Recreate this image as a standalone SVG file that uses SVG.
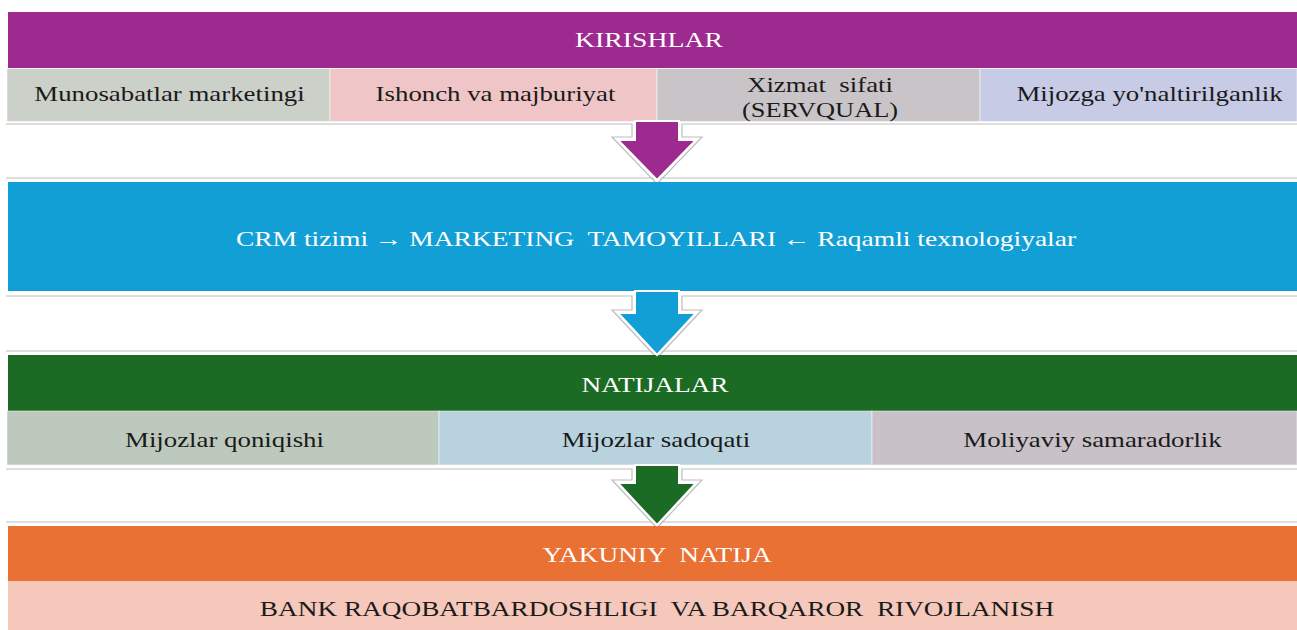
<svg xmlns="http://www.w3.org/2000/svg" width="1297" height="630" viewBox="0 0 1297 630">
<style>
  text { font-family: "Liberation Serif", "Times New Roman", serif; font-size: 22px; text-anchor: middle; white-space: pre; }
  .w { fill: #ffffff; }
  .d { fill: #1a1a1a; }
  .cell { stroke: #ffffff; stroke-opacity: 0.5; stroke-width: 1; }
  .rule { fill: #ffffff; stroke: #bdbdbd; stroke-width: 1.2; }
  .line { fill: none; stroke: #bdbdbd; stroke-width: 1.2; }
  .arrow { stroke: #ffffff; stroke-width: 2; stroke-linejoin: miter; }
</style>
<rect x="0" y="0" width="1297" height="630" fill="#ffffff"/>

<g id="connectors">
  <path class="rule" d="M6 124 H632 V137 H612 L657 184 L702 137 H682 V124 H1297"/>
  <path class="line" d="M6 178 H1297"/>
  <path class="rule" d="M6 296 H632 V310 H612 L657 358 L702 310 H682 V296 H1297"/>
  <path class="line" d="M6 351 H1297"/>
  <path class="rule" d="M6 469 H632 V480 H612 L657 528 L702 480 H682 V469 H1297"/>
  <path class="line" d="M6 522 H1297"/>
</g>

<g id="kirishlar">
  <rect x="8" y="12" width="1289" height="56" fill="#9d2a8f"/>
  <text class="w" transform="translate(649,47) scale(1.26,1)">KIRISHLAR</text>
</g>
<g id="munosabatlar">
  <rect class="cell" x="7" y="68.5" width="323" height="53" fill="#cbd0c8"/>
  <text class="d" transform="translate(169.5,101) scale(1.22,1)">Munosabatlar marketingi</text>
</g>
<g id="ishonch">
  <rect class="cell" x="330" y="68.5" width="327" height="53" fill="#f0c5c7"/>
  <text class="d" transform="translate(495.5,101) scale(1.22,1)">Ishonch va majburiyat</text>
</g>
<g id="xizmat">
  <rect class="cell" x="657" y="68.5" width="323" height="53" fill="#c9c4c7"/>
  <text class="d" transform="translate(820,92) scale(1.22,1)">Xizmat  sifati</text>
  <text class="d" transform="translate(820,117) scale(1.2,1)">(SERVQUAL)</text>
</g>
<g id="mijozga">
  <rect class="cell" x="980" y="68.5" width="317" height="53" fill="#c7cbe5"/>
  <text class="d" transform="translate(1149.5,101) scale(1.22,1)">Mijozga yo'naltirilganlik</text>
</g>

<g id="tamoyillar">
  <rect x="8" y="182" width="1289" height="109" fill="#129fd6"/>
  <text class="w" transform="translate(656,246) scale(1.25,1)">CRM tizimi → MARKETING  TAMOYILLARI ← Raqamli texnologiyalar</text>
</g>

<g id="natijalar">
  <rect x="8" y="355" width="1289" height="56" fill="#1b6b24"/>
  <text class="w" transform="translate(655,392) scale(1.24,1)">NATIJALAR</text>
</g>
<g id="qoniqish">
  <rect class="cell" x="7" y="411" width="432" height="54" fill="#bec9be"/>
  <text class="d" transform="translate(224.5,447) scale(1.22,1)">Mijozlar qoniqishi</text>
</g>
<g id="sadoqat">
  <rect class="cell" x="439" y="411" width="433" height="54" fill="#b9d3de"/>
  <text class="d" transform="translate(656,447) scale(1.22,1)">Mijozlar sadoqati</text>
</g>
<g id="moliyaviy">
  <rect class="cell" x="872" y="411" width="425" height="54" fill="#c9c1c8"/>
  <text class="d" transform="translate(1092.5,447) scale(1.22,1)">Moliyaviy samaradorlik</text>
</g>

<g id="yakuniy">
  <rect x="8" y="526" width="1289" height="55" fill="#e87133"/>
  <text class="w" transform="translate(657,562) scale(1.24,1)">YAKUNIY  NATIJA</text>
</g>
<g id="bank">
  <rect x="8" y="581" width="1289" height="49" fill="#f5c8bb"/>
  <text class="d" transform="translate(657,616) scale(1.24,1)">BANK RAQOBATBARDOSHLIGI  VA BARQAROR  RIVOJLANISH</text>
</g>

<g id="arrows">
  <path class="arrow" fill="#9d2a8f" d="M635 121 H679 V140 H696 L657 180 L618 140 H635 Z"/>
  <path class="arrow" fill="#129fd6" d="M635 291 H679 V313 H696 L657 355 L618 313 H635 Z"/>
  <path class="arrow" fill="#1b6b24" d="M635 465 H679 V483 H696 L657 525 L618 483 H635 Z"/>
</g>
</svg>
